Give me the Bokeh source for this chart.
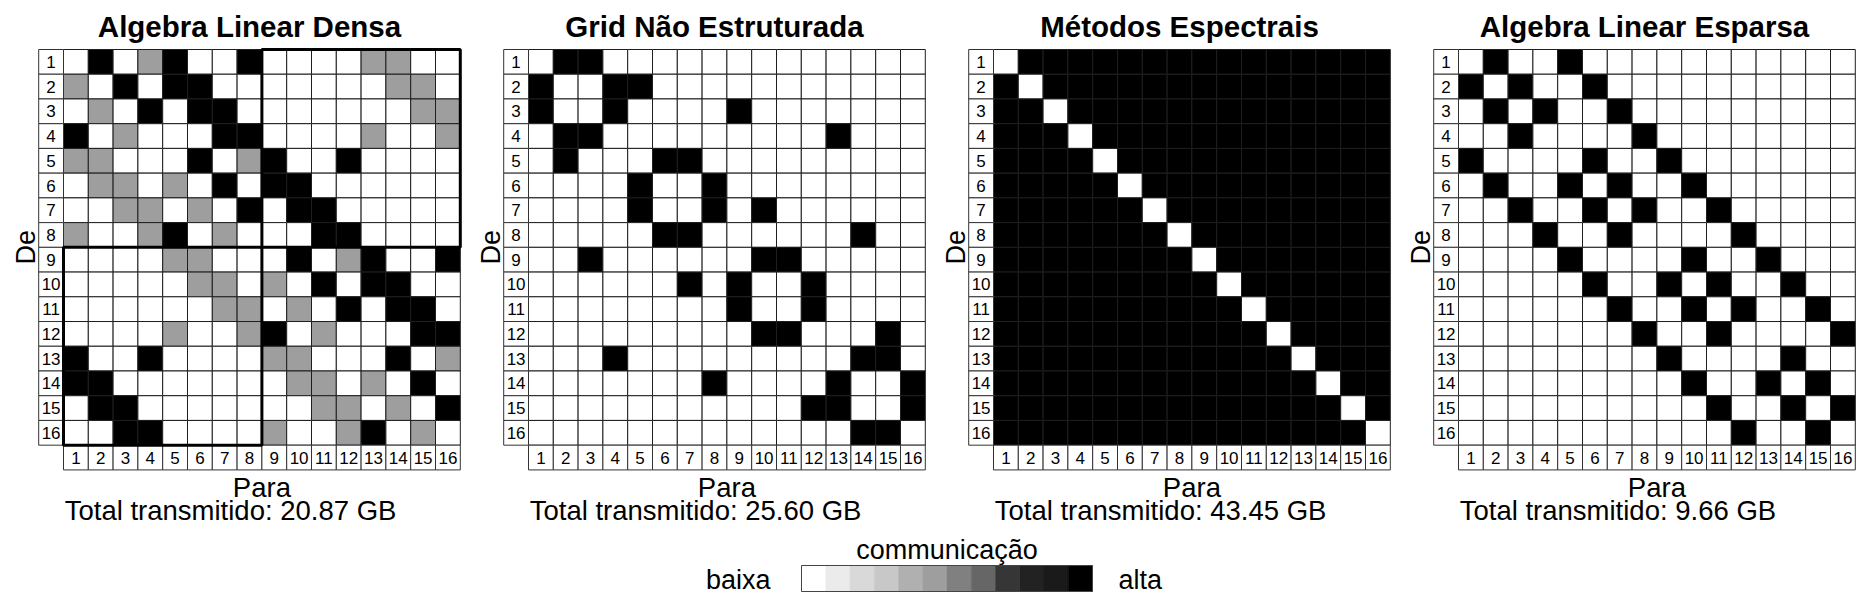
from bokeh.plotting import figure
from bokeh.models import Range1d, ColumnDataSource
from bokeh.layouts import column, row
from bokeh.embed import file_html
from bokeh.resources import INLINE
from bokeh.core.properties import value

FONT = value("Liberation Sans")

# ---------------- data ----------------
titles = ["Algebra Linear Densa", "Grid Não Estruturada", "Métodos Espectrais", "Algebra Linear Esparsa"]
totals = ["20.87", "25.60", "43.45", "9.66"]
node_labels = [str(i) for i in range(1, 17)]

# legend palette (low -> high communication)
palette = ["#ffffff", "#ebebeb", "#d9d9d9", "#c8c8c8", "#b0b0b0", "#9e9e9e",
           "#808080", "#666666", "#363636", "#222222", "#1a1a1a", "#000000"]
legend_title = "communicação"
low_label = "baixa"
high_label = "alta"

# matrices: row = De (from), column = Para (to); '.' none, 'g' medium, '#' high
densa = [
    ".#.g#..#....gg..",
    "g.#.##.......gg.",
    ".g.#.##.......gg",
    "#.g...##....g..g",
    "gg...#.g#..#....",
    ".gg.g.#.##......",
    "..gg.g.#.##.....",
    "g..g#.g...##....",
    "....gg...#.g#..#",
    ".....gg.g.#.##..",
    "......gg.g.#.##.",
    "....g..g#.g...##",
    "#..#....gg...#.g",
    "##.......gg.g.#.",
    ".##.......gg.g.#",
    "..##....g..g#.g.",
]
grid_ne = [
    ".##.............",
    "#..##...........",
    "#..#....#.......",
    ".##.........#...",
    ".#...##.........",
    "....#..#........",
    "....#..#.#......",
    ".....##......#..",
    "..#......##.....",
    "......#.#..#....",
    "........#..#....",
    ".........##...#.",
    "...#.........##.",
    ".......#....#..#",
    "...........##..#",
    ".............##.",
]
espectral = [
    ".###############",
    "#.##############",
    "##.#############",
    "###.############",
    "####.###########",
    "#####.##########",
    "######.#########",
    "#######.########",
    "########.#######",
    "#########.######",
    "##########.#####",
    "###########.####",
    "############.###",
    "#############.##",
    "##############.#",
    "###############.",
]
esparsa = [
    ".#..#...........",
    "#.#..#..........",
    ".#.#..#.........",
    "..#....#........",
    "#....#..#.......",
    ".#..#.#..#......",
    "..#..#.#..#.....",
    "...#..#....#....",
    "....#....#..#...",
    ".....#..#.#..#..",
    "......#..#.#..#.",
    ".......#..#....#",
    "........#....#..",
    ".........#..#.#.",
    "..........#..#.#",
    "...........#..#.",
]
matrices = [densa, grid_ne, espectral, esparsa]
level_index = {".": 0, "g": 5, "#": 11}

# highlighted blocks in the dense panel: (col_from, col_to, row_from, row_to)
densa_blocks = [(9, 16, 1, 8), (1, 8, 9, 16)]

# ---------------- panels ----------------
CW, CH = 24.8, 24.73
FW, FH = 465, 536


def make_panel(mat, title, total, blocks):
    x0 = 0.5 - 63 / CW
    y1 = 16.5 + 49 / CH
    y0 = y1 - FH / CH
    p = figure(width=FW, height=FH, x_range=Range1d(x0, x0 + FW / CW),
               y_range=Range1d(y0, y1), output_backend="svg",
               toolbar_location=None, x_axis_type=None, y_axis_type=None,
               min_border=0, min_border_left=0, min_border_right=0,
               min_border_top=0, min_border_bottom=0)
    p.grid.visible = False
    p.outline_line_color = None
    p.background_fill_color = "white"
    p.border_fill_color = "white"

    xs, ys, cs = [], [], []
    for r, line in enumerate(mat, start=1):
        for c, ch in enumerate(line, start=1):
            xs.append(c)
            ys.append(17 - r)
            cs.append(palette[level_index[ch]])
    src = ColumnDataSource(dict(x=xs, y=ys, color=cs))
    p.rect("x", "y", width=1, height=1, source=src, fill_color="color",
           line_color="#1e1e1e", line_width=1)

    n = len(node_labels)
    # row labels (left column)
    p.rect(x=[0] * n, y=[17 - k for k in range(1, n + 1)], width=1, height=1,
           fill_color="white", line_color="#333333", line_width=1)
    p.text(x=[0] * n, y=[17 - k for k in range(1, n + 1)], text=node_labels,
           text_align="center", text_baseline="middle", text_font=FONT,
           text_font_size="17px", text_color="black")
    # column labels (bottom row)
    p.rect(x=list(range(1, n + 1)), y=[0] * n, width=1, height=1,
           fill_color="white", line_color="#333333", line_width=1)
    p.text(x=list(range(1, n + 1)), y=[0] * n, text=node_labels,
           text_align="center", text_baseline="middle", text_font=FONT,
           text_font_size="17px", text_color="black")

    for (ca, cb, ra, rb) in blocks:
        p.rect(x=[(ca + cb) / 2], y=[17 - (ra + rb) / 2], width=cb - ca + 1,
               height=rb - ra + 1, fill_color=None, line_color="black",
               line_width=3)

    p.text(x=[8.0], y=[17.44], text=[title], text_align="center",
           text_baseline="middle", text_font=FONT, text_font_style="bold",
           text_font_size="29.5px", text_color="black")
    p.text(x=[-1.0], y=[8.5], text=["De"], angle=1.5707963,
           text_align="center", text_baseline="middle", text_font=FONT,
           text_font_size="27px", text_color="black")
    p.text(x=[8.5], y=[-1.23], text=["Para"], text_align="center",
           text_baseline="middle", text_font=FONT, text_font_size="27.5px",
           text_color="black")
    p.text(x=[0.55], y=[-2.16], text=["Total transmitido: %s GB" % total],
           text_align="left", text_baseline="middle", text_font=FONT,
           text_font_size="27.5px", text_color="black")
    return p


panels = [make_panel(matrices[i], titles[i], totals[i],
                     densa_blocks if i == 0 else [])
          for i in range(4)]

# ---------------- legend ----------------
LW, LH = 1860, 66
SW = 24.25
lx0 = -801 / SW
leg = figure(width=LW, height=LH, x_range=Range1d(lx0, lx0 + LW / SW),
             y_range=Range1d(0, LH), output_backend="svg",
             toolbar_location=None, x_axis_type=None, y_axis_type=None,
             min_border=0, min_border_left=0, min_border_right=0,
             min_border_top=0, min_border_bottom=0)
leg.grid.visible = False
leg.outline_line_color = None
nlev = len(palette)
leg.rect(x=[k + 0.5 for k in range(nlev)], y=[24] * nlev, width=1, height=26,
         fill_color=palette, line_color=palette, line_width=0.5)
leg.rect(x=[nlev / 2], y=[24], width=nlev, height=26, fill_color=None,
         line_color="#444444", line_width=1)
leg.text(x=[nlev / 2], y=[52.4], text=[legend_title], text_align="center",
         text_baseline="middle", text_font=FONT, text_font_size="27px",
         text_color="black")
leg.text(x=[-1.28], y=[23], text=[low_label], text_align="right",
         text_baseline="middle", text_font=FONT, text_font_size="27px",
         text_color="black")
leg.text(x=[nlev + 1.07], y=[23], text=[high_label], text_align="left",
         text_baseline="middle", text_font=FONT, text_font_size="27px",
         text_color="black")

layout = column(row(*panels), leg)
open("out.html", "w").write(file_html(layout, INLINE))
